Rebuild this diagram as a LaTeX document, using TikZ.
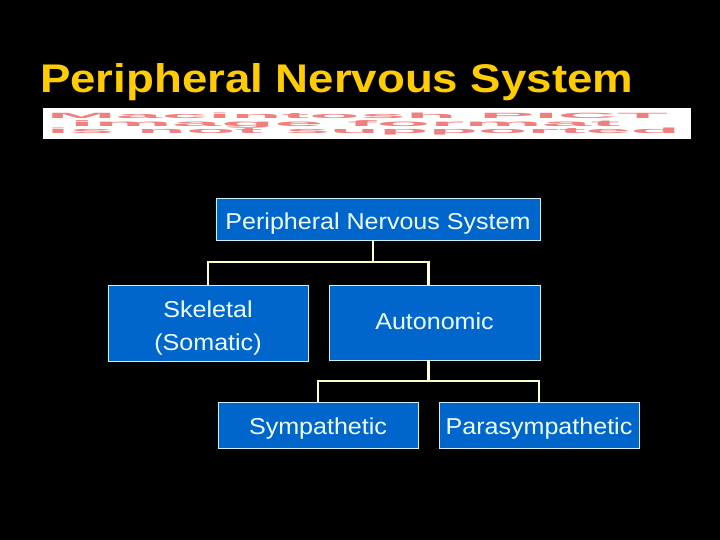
\documentclass[tikz,border=0pt]{standalone}
\usepackage{graphicx}
\usepackage{fontspec}
\setmainfont{Liberation Sans}
\usetikzlibrary{positioning}
\definecolor{boxfill}{HTML}{0066CC}
\definecolor{boxline}{HTML}{CCF2FF}
\definecolor{boxtext}{HTML}{EEFFFF}
\definecolor{linkcol}{HTML}{FFFFCC}
\definecolor{titlecol}{HTML}{FFCC00}
\definecolor{pictred}{HTML}{EE8080}
% text is a little wider than the font, and sits a little low
\newcommand{\wide}[2]{\raisebox{-#1}[\height][\depth]{\scalebox{1.09}[1]{#2}}}
\tikzset{
  unit/.style  = {draw=boxline, fill=boxfill, text=boxtext, align=center,
                  font=\fontsize{23}{33}\selectfont, inner sep=0pt, line width=0.8pt},
  link/.style  = {draw=linkcol, line width=2.6pt},
  pict/.style  = {text=pictred, inner sep=0pt, font=\bfseries}
}

\begin{document}
\begin{tikzpicture}[x=1pt, y=-1pt]
  \fill[black] (0,0) rectangle (720,540);
  \useasboundingbox (0,0) rectangle (720,540);
  \node[anchor=base west, inner sep=0pt, text=titlecol,
        font=\fontsize{40}{48}\selectfont\bfseries] (title) at (40,93)
       {\scalebox{1.14}[1]{Peripheral Nervous System}};
  % missing picture placeholder
  \node[fill=white, minimum width=648pt, minimum height=31pt, inner sep=0pt] (pictbox) at (367,123.5) {};
  \node[pict] (pict1) at (357.5,115.5) {\resizebox{621pt}{5.5pt}{Macintosh PICT}};
  \node[pict] (pict2) at (345,124) {\resizebox{550pt}{6pt}{image format}};
  \node[pict] (pict3) at (363.5,131.5) {\resizebox{633pt}{5.5pt}{is not supported}};
  % chart
  \node[unit, minimum width=324pt, minimum height=42pt] (pns) at (378,219)
       {\wide{5pt}{Peripheral Nervous System}};
  \node[unit, minimum width=200pt, minimum height=76pt] (skel) at (208,323)
       {\wide{5pt}{Skeletal}\\\wide{5pt}{(Somatic)}};
  \node[unit, minimum width=211pt, minimum height=75pt] (auto) at (434.5,322.5)
       {\wide{-1.5pt}{Autonomic}};
  \node[unit, minimum width=200pt, minimum height=46pt] (symp) at (318,425)
       {\wide{3.7pt}{Sympathetic}};
  \node[unit, minimum width=200pt, minimum height=46pt] (para) at (539,425)
       {\wide{3.7pt}{Parasympathetic}};
  \coordinate (bus1) at (0,262);
  \coordinate (bus2) at (0,381);
  \draw[link] (pns.south -| 373,0) -- (373,262);
  \draw[link] (skel.north) |- ([xshift=-6pt]auto.north |- bus1) -- ([xshift=-6pt]auto.north);
  \draw[link] ([xshift=-6pt]auto.south) -- ([xshift=-6pt]auto.south |- bus2);
  \draw[link] (symp.north) |- (para.north |- bus2) -- (para.north);
\end{tikzpicture}
\end{document}
